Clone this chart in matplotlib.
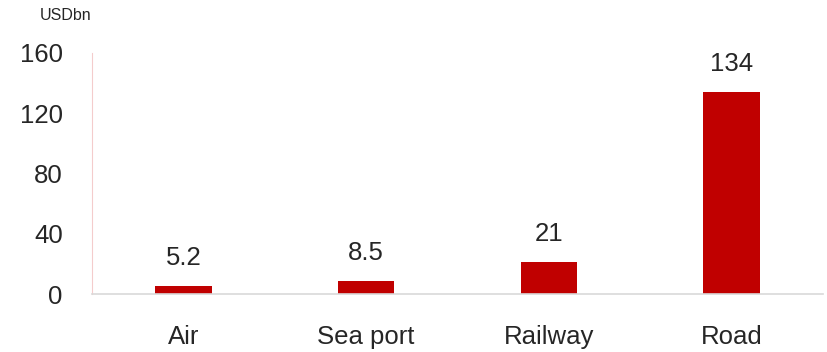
import matplotlib.pyplot as plt

categories = ['Air', 'Sea port', 'Railway', 'Road']
values = [5.2, 8.5, 21, 134]
labels = ['5.2', '8.5', '21', '134']
yticks = [0, 40, 80, 120, 160]

plt.rcParams['font.family'] = ['Liberation Sans', 'DejaVu Sans']
txt = '#262626'

fig = plt.figure(figsize=(8.27, 3.52), dpi=100)
ax = fig.add_axes([92/827, 1 - 294/352, (823 - 92)/827, (294 - 53)/352])

x = range(len(categories))
bars = ax.bar(x, values, width=0.31, color='#c00000')
for b, lab in zip(bars, labels):
    ax.annotate(lab, (b.get_x() + b.get_width()/2, b.get_height()),
                xytext=(0, 15.5), textcoords='offset points',
                ha='center', va='baseline', fontsize=18.5, color=txt)

ax.set_xlim(-0.5, 3.5)
ax.set_ylim(0, 160)
ax.set_yticks(yticks)
ax.set_xticks(list(x))
ax.set_xticklabels(categories)
ax.tick_params(axis='both', length=0, labelsize=18.5, colors=txt)
ax.tick_params(axis='x', pad=22)
ax.tick_params(axis='y', pad=21)

ax.spines['top'].set_visible(False)
ax.spines['right'].set_visible(False)
ax.spines['left'].set_color('#f4cccc')
ax.spines['bottom'].set_color('#d9d9d9')
ax.spines['bottom'].set_linewidth(1.2)

fig.text(40/827, 1 - 16/352, 'USDbn', fontsize=11.5, va='center', ha='left', color=txt)

fig.savefig('out.png', dpi=100)
